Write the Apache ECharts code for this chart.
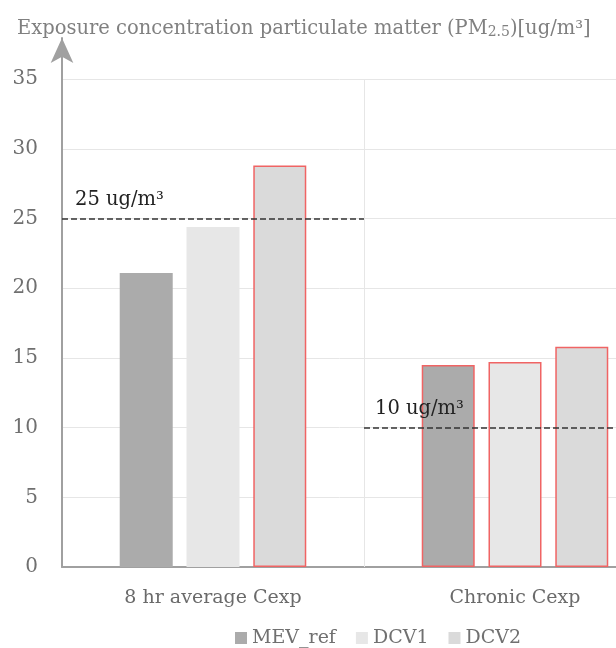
<!DOCTYPE html>
<html><head><meta charset="utf-8">
<script src="https://cdn.jsdelivr.net/npm/echarts@6/dist/echarts.min.js"></script>
<style>html,body{margin:0;padding:0;background:#fff}#c{width:616px;height:648px}</style>
</head><body><div id="c"></div><script>
// ---- data ----
const categories = ['8 hr average Cexp', 'Chronic Cexp'];
const seriesNames = ['MEV_ref', 'DCV1', 'DCV2'];
const mevRef = [21.1, 14.5];
const dcv1 = [24.4, 14.7];
const dcv2 = [28.8, 15.8];
const limits = [25, 10];
const limitLabels = ['25 ug/m³', '10 ug/m³'];
const yMaxTick = 35;
const yInterval = 5;

// ---- style ----
const FONT = 'DejaVu Serif';
const fills = ['#ababab', '#e7e7e7', '#dadada'];
const RED = '#f06464';
const allValues = [mevRef, dcv1, dcv2];

function barData(vals) {
  return vals.map((v, i) => ({
    value: v,
    itemStyle: v > limits[i] ? { borderColor: RED, borderWidth: 1.5 } : { borderWidth: 0 }
  }));
}

const chart = echarts.init(document.getElementById('c'), null, { renderer: 'canvas' });
const barSeries = seriesNames.map((name, k) => ({
  name, type: 'bar', xAxisIndex: 0, yAxisIndex: 0,
  data: barData(allValues[k]),
  barWidth: 53, barGap: '26%',
  itemStyle: { color: fills[k] },
  animation: false
}));

const dash = { type: 'dashed', color: '#333', width: 1.5 };
const lineLabel = { show: true, position: 'insideStartTop', color: '#222', fontFamily: FONT, fontSize: 19.5 };

const option = {
  animation: false,
  title: {
    left: 12, top: 14,
    text: '{a|Exposure concentration particulate matter (PM}{b|2.5}{a|)[ug/m³]}',
    textStyle: {
      fontWeight: 'normal',
      rich: {
        a: { fontFamily: FONT, fontSize: 19.5, fontWeight: 'normal', color: '#808080' },
        b: { fontFamily: FONT, fontSize: 14, fontWeight: 'normal', color: '#808080', verticalAlign: 'bottom' }
      }
    }
  },
  legend: {
    data: seriesNames, left: 230, top: 628,
    icon: 'rect', itemWidth: 12, itemHeight: 12, itemGap: 20, padding: [0, 5, 0, 5],
    textStyle: { fontFamily: FONT, fontSize: 19, color: '#707070', lineHeight: 20 }
  },
  grid: { left: 62, right: -50, top: 38, bottom: 81, containLabel: false, outerBoundsMode: 'none' },
  xAxis: [
    {
      type: 'category', data: categories,
      axisLine: { lineStyle: { color: '#a0a0a0', width: 2 } },
      axisTick: { show: false },
      axisLabel: { fontFamily: FONT, fontSize: 19, color: '#6a6a6a', margin: 22 },
      splitLine: { show: false }
    },
    { type: 'value', min: 0, max: 2, show: false }
  ],
  yAxis: {
    type: 'value', min: 0, max: 37.95, interval: yInterval,
    axisLine: { show: true, lineStyle: { color: '#a0a0a0', width: 2 }, symbol: ['none', 'arrow'], symbolSize: [17, 25] },
    axisTick: { show: false },
    axisLabel: { fontFamily: FONT, fontSize: 20, color: '#707070', margin: 24, showMaxLabel: false,
      formatter: v => (v <= yMaxTick ? String(v) : '') },
    splitLine: { show: true, showMaxLine: false, lineStyle: { color: '#e6e6e6', width: 1 } }
  },
  series: barSeries.concat([{
    type: 'line', xAxisIndex: 1, yAxisIndex: 0, data: [], silent: true,
    markLine: {
      silent: true, symbol: ['none', 'none'], animation: false,
      data: [
        [{ coord: [1, 0], lineStyle: { type: 'solid', color: '#e6e6e6', width: 1 }, label: { show: false } }, { coord: [1, yMaxTick] }],
        [{ coord: [0, limits[0]], lineStyle: dash, label: Object.assign({ formatter: limitLabels[0], distance: [13, 9] }, lineLabel) }, { coord: [1, limits[0]] }],
        [{ coord: [1, limits[1]], lineStyle: dash, label: Object.assign({ formatter: limitLabels[1], distance: [11, 9] }, lineLabel) }, { coord: [2, limits[1]] }]
      ]
    }
  }])
};
chart.setOption(option);
</script></body></html>
